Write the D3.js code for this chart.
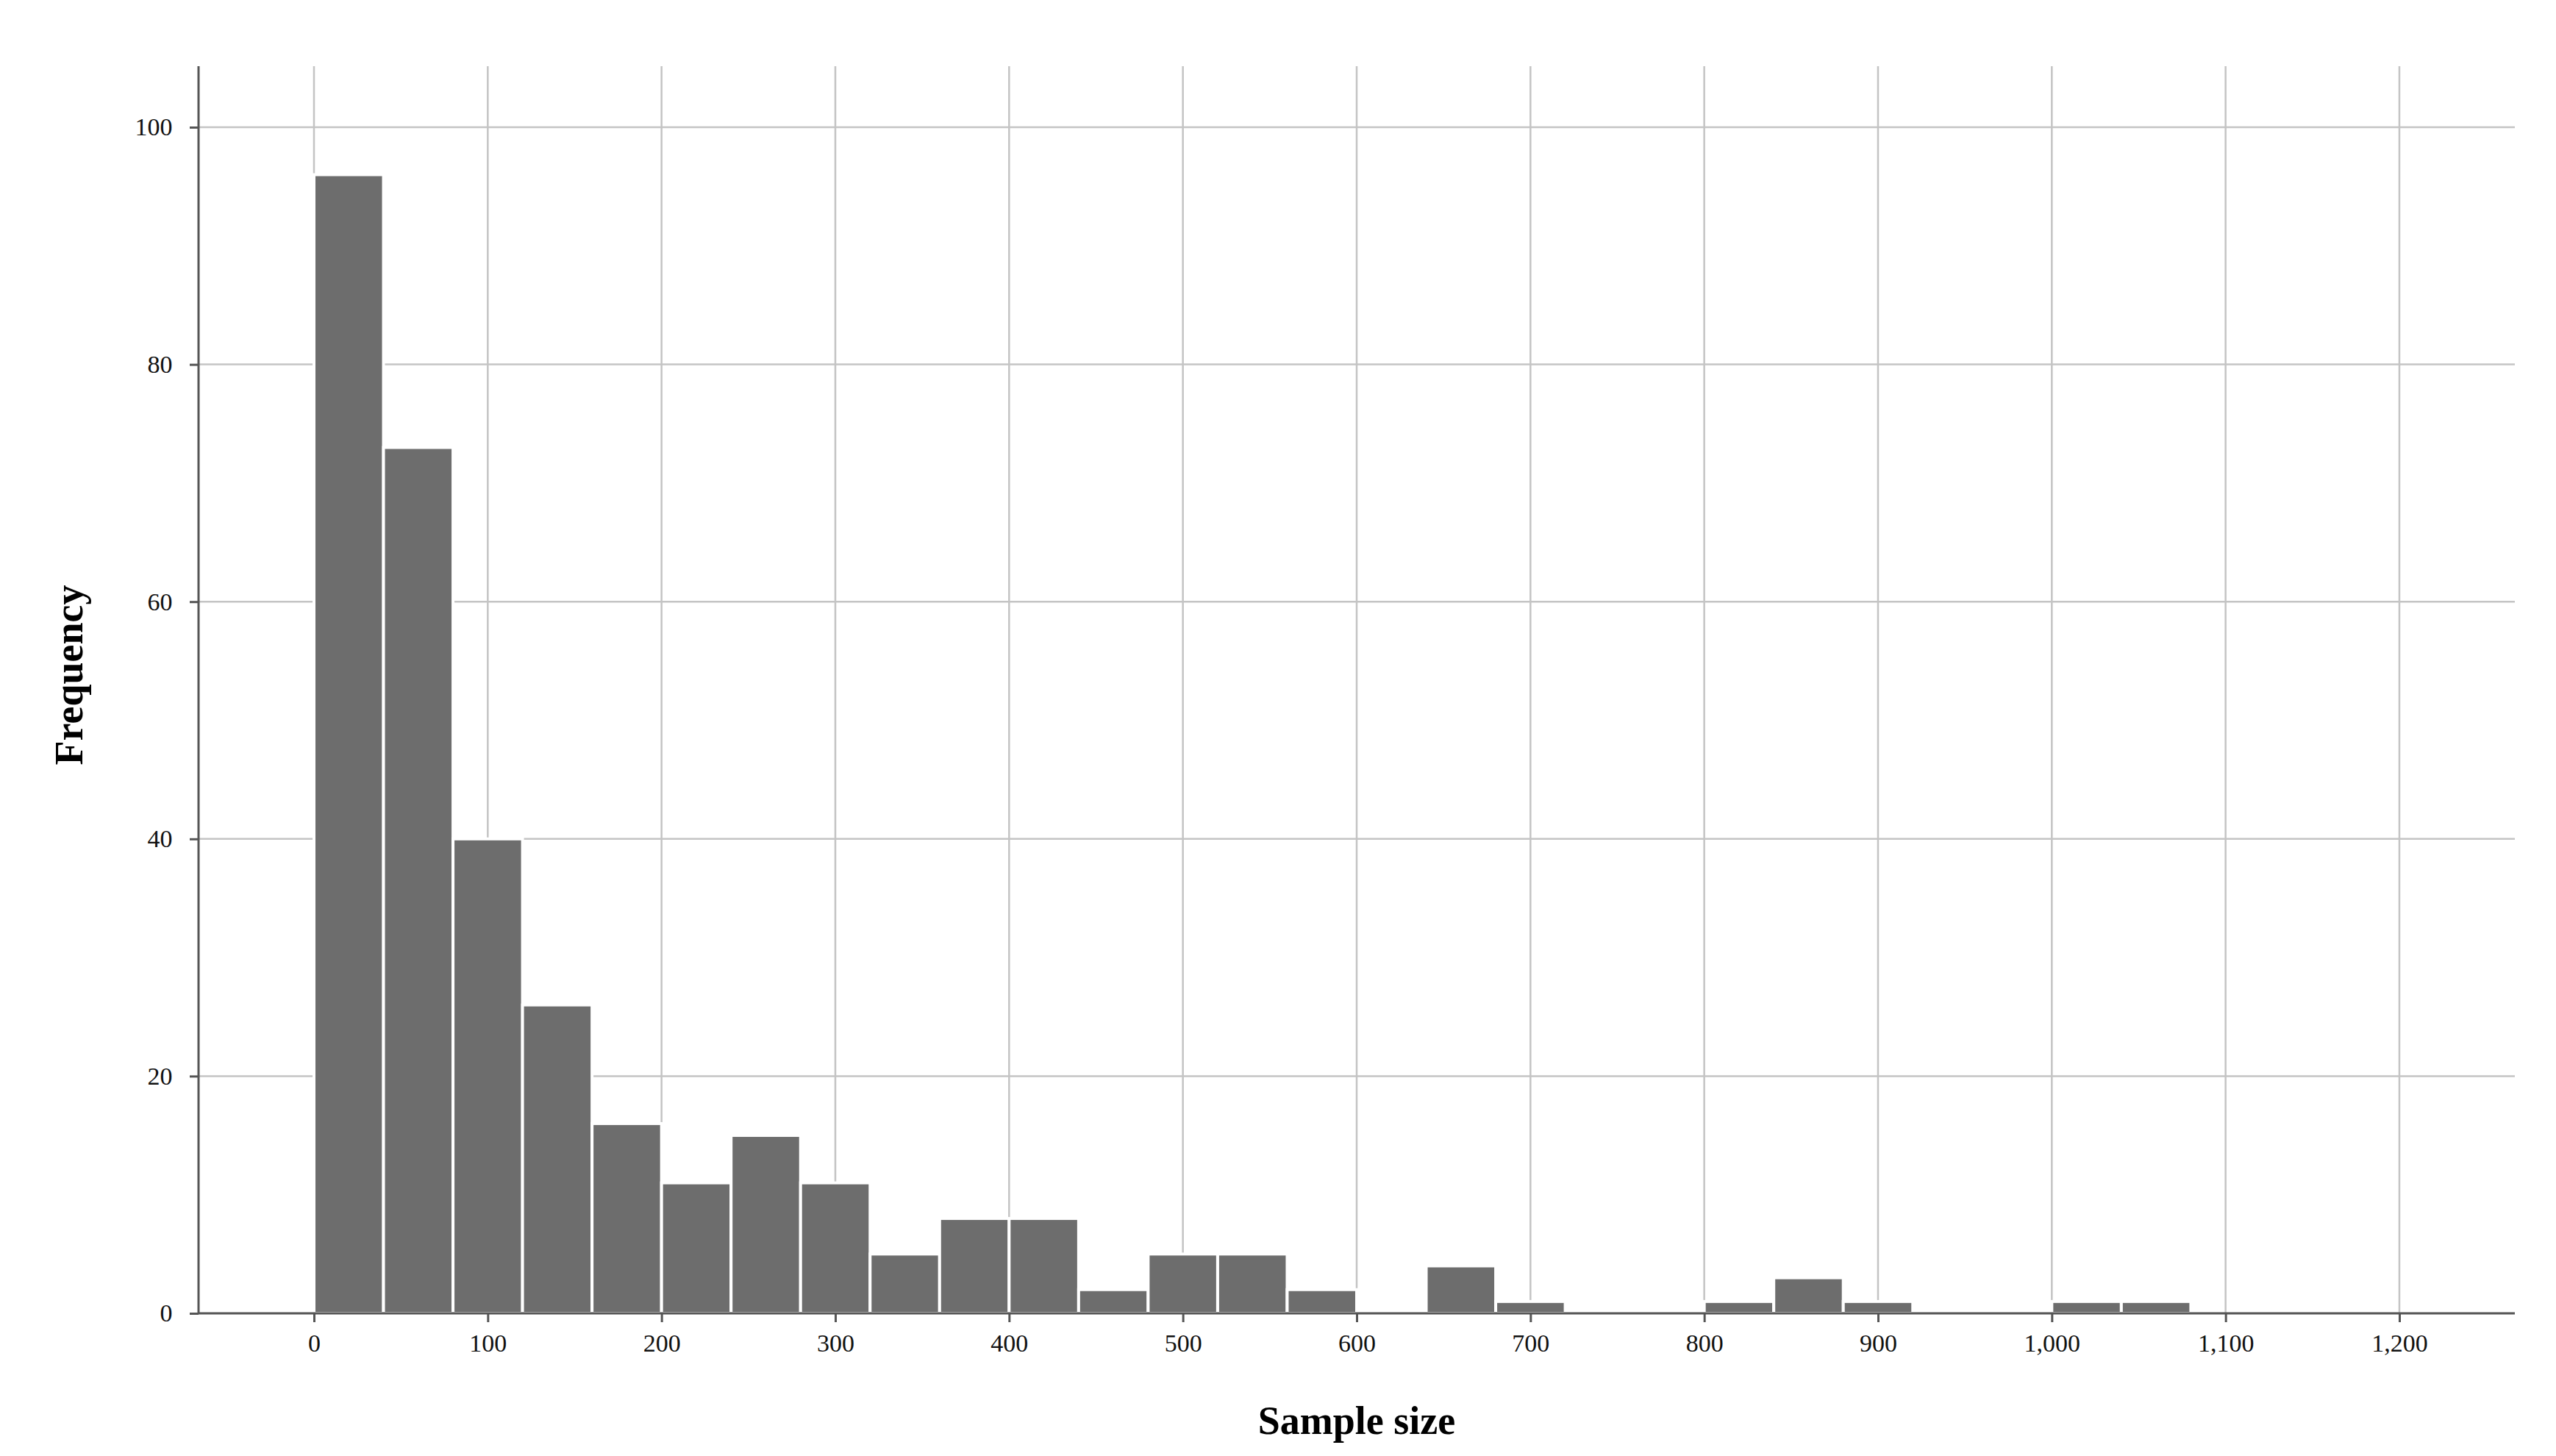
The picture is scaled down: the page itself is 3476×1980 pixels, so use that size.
<!DOCTYPE html>
<html><head><meta charset="utf-8">
<script src="https://cdn.jsdelivr.net/npm/d3@7"></script>
<style>body{margin:0;background:#fff}</style>
</head><body>
<svg id="chart" width="3476" height="1980"></svg>
<script>
// histogram bins of width 40, starting at 0
const binStarts = d3.range(0, 1080, 40);
const counts = [96, 73, 40, 26, 16, 11, 15, 11, 5, 8, 8, 2, 5, 5, 2, 0, 4, 1, 0, 0, 1, 3, 1, 0, 0, 1, 1];
const xTicks = d3.range(0, 1201, 100);
const yTicks = [0, 20, 40, 60, 80, 100];

const svg = d3.select("#chart");
const mLeft = 270, mRight = 3420, mTop = 90, mBottom = 1786;

const x = d3.scaleLinear().domain([0, 1200]).range([427, 3263]);
const y = d3.scaleLinear().domain([0, 100]).range([mBottom, 173]);

// grid
svg.append("g").selectAll("line").data(xTicks).join("line")
  .attr("x1", d => x(d)).attr("x2", d => x(d)).attr("y1", mTop).attr("y2", mBottom)
  .attr("stroke", "#c4c4c4").attr("stroke-width", 2.5);
svg.append("g").selectAll("line").data(yTicks.slice(1)).join("line")
  .attr("x1", mLeft).attr("x2", mRight).attr("y1", d => y(d)).attr("y2", d => y(d))
  .attr("stroke", "#c4c4c4").attr("stroke-width", 2.5);

// bars
svg.append("g").selectAll("rect").data(counts).join("rect")
  .attr("x", (d, i) => x(binStarts[i]))
  .attr("width", x(40) - x(0))
  .attr("y", d => y(d))
  .attr("height", d => y(0) - y(d))
  .attr("fill", "#6d6d6d").attr("stroke", "#fff").attr("stroke-width", 4);

// axes
const xAxis = d3.axisBottom(x).tickValues(xTicks).tickSize(12).tickSizeOuter(0);
const gx = svg.append("g").attr("transform", `translate(0,${mBottom})`).call(xAxis);
gx.select(".domain").remove();
gx.append("line").attr("x1", mLeft).attr("x2", mRight).attr("stroke", "#555").attr("stroke-width", 3);

const yAxis = d3.axisLeft(y).tickValues(yTicks).tickSize(12).tickSizeOuter(0);
const gy = svg.append("g").attr("transform", `translate(${mLeft},0)`).call(yAxis);
gy.select(".domain").remove();
gy.append("line").attr("y1", mTop).attr("y2", mBottom).attr("stroke", "#555").attr("stroke-width", 3);

svg.selectAll(".tick line").attr("stroke", "#555").attr("stroke-width", 3);
svg.selectAll(".tick text").attr("font-family", "Liberation Serif").attr("font-size", 34).attr("fill", "#111");
gx.selectAll(".tick text").attr("dy", "1.1em");
gy.selectAll(".tick text").attr("dx", "-0.6em");

svg.append("text").attr("x", x(600)).attr("y", 1950).attr("text-anchor", "middle")
  .attr("font-family", "Liberation Serif").attr("font-weight", "bold").attr("font-size", 54)
  .text("Sample size");
svg.append("text").attr("transform", `translate(112,${(mTop + mBottom) / 2 - 20}) rotate(-90)`)
  .attr("text-anchor", "middle")
  .attr("font-family", "Liberation Serif").attr("font-weight", "bold").attr("font-size", 54)
  .text("Frequency");
</script>
</body></html>
